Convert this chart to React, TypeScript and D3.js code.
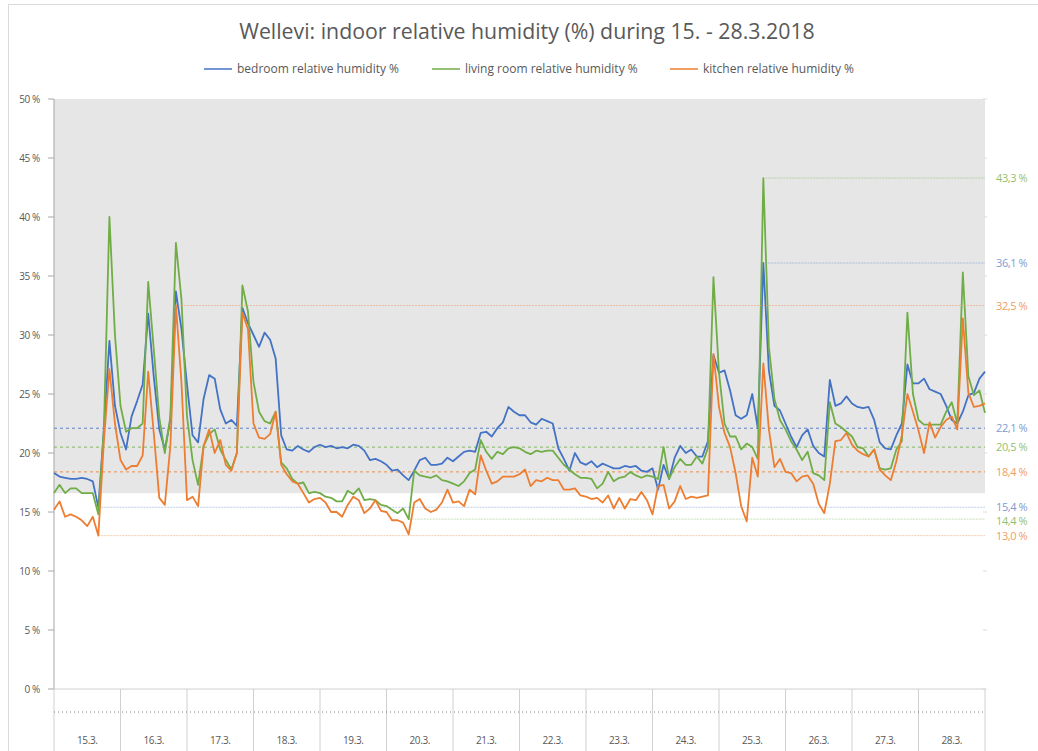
import React from "react";
import * as d3 from "d3";

const dayLabels = ["15.3.", "16.3.", "17.3.", "18.3.", "19.3.", "20.3.", "21.3.", "22.3.", "23.3.", "24.3.", "25.3.", "26.3.", "27.3.", "28.3."];
const stepHours = 2;
const yTicks = [0, 5, 10, 15, 20, 25, 30, 35, 40, 45, 50];

const seriesNames = ["bedroom relative humidity %", "living room relative humidity %", "kitchen relative humidity %"];
const seriesColors = ["#4472c4", "#70ad47", "#ed7d31"];
const labelColors = ["#7d9bd3", "#92bf72", "#f09d66"];

// bedroom, every 2 hours from 15.3. 00:00
const bedroom = [
  18.3, 18.0, 17.9, 17.8, 17.8, 17.9, 17.8, 17.6, 15.4, 22.0, 29.5, 24.0,
  21.7, 20.3, 23.1, 24.4, 25.8, 31.8, 26.5, 22.0, 20.3, 22.8, 33.7, 30.5,
  25.8, 21.5, 20.9, 24.6, 26.6, 26.3, 23.7, 22.5, 22.8, 22.3, 32.3, 31.0,
  30.0, 29.0, 30.2, 29.6, 28.0, 21.5, 20.3, 20.2, 20.6, 20.3, 20.1, 20.5,
  20.7, 20.5, 20.6, 20.4, 20.5, 20.4, 20.7, 20.6, 20.2, 19.4, 19.5, 19.3,
  19.0, 18.5, 18.6, 18.1, 17.7, 18.5, 19.4, 19.6, 19.0, 19.0, 19.1, 19.6,
  19.3, 19.7, 20.1, 20.2, 20.1, 21.7, 21.8, 21.4, 22.1, 22.6, 23.9, 23.5,
  23.2, 23.2, 22.6, 22.4, 22.9, 22.7, 22.5, 20.4, 19.5, 18.5, 20.0, 19.2,
  19.0, 19.3, 18.8, 19.1, 18.9, 18.7, 18.7, 18.9, 18.8, 18.9, 18.5, 18.4,
  18.7, 16.9, 19.0, 17.8, 19.6, 20.6, 20.0, 20.3, 19.7, 19.7, 21.0, 28.3,
  26.8, 27.0, 25.3, 23.2, 22.9, 23.2, 25.0, 22.1, 36.1, 27.0, 24.0, 23.6,
  22.5, 21.4, 20.5, 21.5, 22.0, 20.6, 20.0, 19.7, 26.2, 24.0, 24.2, 24.8,
  24.2, 23.9, 23.8, 23.9, 22.8, 20.9, 20.4, 20.3, 21.5, 22.5, 27.5, 25.9,
  25.9, 26.3, 25.4, 25.2, 25.0, 24.0, 22.8, 22.5, 23.5, 24.9, 25.1, 26.3,
  26.9,
];

const livingRoom = [
  16.6, 17.3, 16.6, 17.0, 17.0, 16.6, 16.6, 16.6, 14.8, 22.0, 40.0, 30.0,
  24.0, 21.8, 22.1, 22.1, 22.5, 34.5, 28.8, 23.0, 20.0, 23.1, 37.8, 33.0,
  23.1, 19.4, 17.3, 20.6, 21.6, 22.0, 20.3, 19.4, 18.6, 20.0, 34.2, 32.0,
  26.0, 23.5, 22.7, 22.5, 23.5, 19.2, 18.7, 17.8, 17.4, 17.5, 16.6, 16.7,
  16.6, 16.3, 16.2, 15.9, 15.9, 16.8, 16.5, 17.0, 16.0, 16.1, 16.0, 15.6,
  15.5, 15.2, 14.9, 15.3, 14.4, 18.5, 18.1, 18.0, 17.9, 18.1, 17.7, 17.6,
  17.4, 17.2, 17.6, 18.3, 18.6, 21.1, 20.1, 19.5, 20.1, 19.9, 20.4, 20.5,
  20.4, 20.1, 19.9, 20.2, 20.1, 20.2, 20.2, 19.6, 19.0, 18.6, 18.2, 17.9,
  17.9, 17.8, 17.0, 17.4, 18.4, 17.6, 17.9, 18.0, 18.4, 18.1, 17.9, 18.1,
  18.0, 17.8, 20.5, 17.8, 18.8, 19.5, 19.0, 19.0, 19.7, 19.1, 20.4, 34.9,
  26.8, 22.5, 21.4, 21.4, 20.3, 20.8, 20.5, 19.5, 43.3, 29.0, 24.6, 22.8,
  22.0, 21.0, 20.3, 19.4, 20.1, 18.3, 18.1, 17.7, 24.3, 22.5, 22.2, 21.8,
  21.4, 20.5, 20.4, 19.7, 20.3, 18.7, 18.6, 18.7, 20.3, 21.0, 31.9, 25.0,
  22.8, 22.4, 22.4, 22.4, 22.4, 23.5, 24.3, 22.5, 35.3, 26.5, 24.9, 25.3,
  23.4,
];

const kitchen = [
  15.2, 15.9, 14.6, 14.8, 14.6, 14.3, 13.8, 14.6, 13.0, 21.0, 27.1, 22.5,
  19.4, 18.6, 18.9, 18.9, 19.8, 26.9, 21.7, 16.2, 15.6, 20.6, 32.5, 26.0,
  16.0, 16.3, 15.5, 20.6, 22.0, 20.0, 21.1, 19.0, 18.5, 20.0, 31.9, 30.5,
  22.5, 21.3, 21.2, 21.6, 23.5, 19.0, 18.2, 17.6, 17.4, 16.6, 15.8, 16.1,
  16.2, 15.8, 15.0, 15.0, 14.6, 15.6, 16.3, 16.0, 14.9, 15.3, 16.0, 15.1,
  15.0, 14.3, 14.3, 14.1, 13.1, 15.8, 16.1, 15.3, 15.0, 15.2, 15.8, 16.9,
  15.8, 15.9, 15.5, 16.9, 16.5, 19.8, 18.5, 17.4, 17.6, 18.0, 18.0, 18.0,
  18.2, 18.6, 17.2, 17.7, 17.6, 17.9, 17.7, 17.7, 16.9, 16.9, 17.0, 16.4,
  16.3, 16.1, 16.2, 15.8, 16.4, 15.3, 16.2, 15.3, 16.1, 16.0, 16.7, 16.0,
  14.8, 17.2, 17.3, 15.3, 15.9, 17.2, 16.1, 16.3, 16.2, 16.3, 16.4, 28.4,
  23.9, 21.7, 20.5, 18.3, 15.5, 14.2, 19.6, 18.0, 27.6, 22.0, 18.8, 19.5,
  18.4, 18.3, 17.6, 18.0, 18.1, 17.4, 15.7, 14.9, 17.4, 21.0, 21.1, 21.7,
  20.7, 20.2, 19.9, 19.7, 20.3, 18.6, 18.1, 17.7, 19.3, 21.5, 25.0, 23.5,
  21.9, 20.0, 22.6, 21.3, 22.2, 22.8, 23.1, 22.0, 31.4, 25.1, 23.9, 24.0,
  24.2,
];

const averages = [22.1, 20.5, 18.4];
const maxima = [36.1, 43.3, 32.5];
const minima = [15.4, 14.4, 13.0];
const comfortLow = 16.6;
const comfortHigh = 50;

const W = 1038;
const H = 751;
const M = { left: 54, right: 985, top: 99, bottom: 689 };
const FONT = "'Open Sans', 'Noto Sans', sans-serif";
const TEXT = "#595959";

const fmt = (v: number) => v.toFixed(1).replace(".", ",") + " %";

export default function App() {
  const allSeries = [bedroom, livingRoom, kitchen];
  const totalHours = dayLabels.length * 24;
  const x = d3.scaleLinear().domain([0, totalHours]).range([M.left, M.right]);
  const y = d3.scaleLinear().domain([0, 50]).range([M.bottom, M.top]);
  const line = d3
    .line<number>()
    .x((_, i) => x(i * stepHours))
    .y((d) => y(d));

  const dayBounds = d3.range(dayLabels.length + 1).map((d) => x(d * 24));
  const rightLabelYs = [
    ...maxima.map((v) => y(v)),
    ...averages.map((v) => y(v)),
    ...minima.map((v) => y(v)),
  ];

  return (
    <svg width={W} height={H} style={{ position: "absolute", left: 0, top: 0, background: "#fff" }} fontFamily={FONT}>
      <rect x={8.5} y={4.5} width={W} height={H} fill="#fff" stroke="#d9d9d9" />
      <text x={527} y={39} textAnchor="middle" fontSize={21.3} fill={TEXT}>
        Wellevi: indoor relative humidity (%) during 15. - 28.3.2018
      </text>

      {seriesNames.map((name, i) => {
        const lx = [204, 432, 670][i];
        return (
          <g key={name}>
            <line x1={lx} x2={lx + 28} y1={69} y2={69} stroke={seriesColors[i]} strokeWidth={1.5} />
            <text x={lx + 33} y={73} fontSize={12} fill={TEXT}>
              {name}
            </text>
          </g>
        );
      })}

      <rect x={M.left} y={y(comfortHigh)} width={M.right - M.left} height={y(comfortLow) - y(comfortHigh)} fill="#e6e6e6" />

      {/* right side small ticks */}
      {yTicks.map((t) => (
        <line key={"rt" + t} x1={M.right - 2} x2={M.right + 2} y1={y(t)} y2={y(t)} stroke="#dcdcdc" />
      ))}

      {/* y axis */}
      <line x1={M.left} x2={M.left} y1={M.top} y2={M.bottom} stroke="#a6a6a6" />
      {yTicks.map((t) => (
        <g key={t}>
          <line x1={M.left - 6} x2={M.left} y1={y(t)} y2={y(t)} stroke="#a6a6a6" />
          <text x={40} y={y(t) + 3.5} textAnchor="end" fontSize={10} letterSpacing={-0.4} fill={TEXT}>
            {t} %
          </text>
        </g>
      ))}

      {/* bottom category area */}
      <line x1={M.left} x2={M.right} y1={M.bottom} y2={M.bottom} stroke="#d0d0d0" />
      {dayBounds.map((bx, i) => (
        <line key={"db" + i} x1={bx} x2={bx} y1={M.bottom} y2={H} stroke="#d0d0d0" />
      ))}
      <line x1={M.left} x2={M.right} y1={712} y2={712} stroke="#7f7f7f" strokeDasharray="1,3" />
      {dayLabels.map((lab, i) => (
        <text key={lab} x={(dayBounds[i] + dayBounds[i + 1]) / 2} y={744} textAnchor="middle" fontSize={10} letterSpacing={-0.4} fill={TEXT}>
          {lab}
        </text>
      ))}

      {/* average lines */}
      {averages.map((v, i) => (
        <line key={"avg" + i} x1={M.left} x2={M.right} y1={y(v)} y2={y(v)} stroke={seriesColors[i]} strokeWidth={1} strokeDasharray="3,3" opacity={0.85} />
      ))}

      {/* min lines */}
      {minima.map((v, i) => {
        const idx = d3.minIndex(allSeries[i]);
        return (
          <line key={"min" + i} x1={x(idx * stepHours)} x2={M.right} y1={y(v)} y2={y(v)} stroke={labelColors[i]} strokeWidth={1} strokeDasharray="2,1" opacity={0.5} />
        );
      })}

      {/* data lines */}
      {allSeries.map((s, i) => (
        <path key={"s" + i} d={line(s) || ""} fill="none" stroke={seriesColors[i]} strokeWidth={1.8} strokeLinejoin="round" />
      ))}

      {/* max lines */}
      {maxima.map((v, i) => {
        const idx = d3.maxIndex(allSeries[i]);
        return (
          <line key={"max" + i} x1={x(idx * stepHours) + 2} x2={M.right} y1={y(v)} y2={y(v)} stroke={labelColors[i]} strokeWidth={1} strokeDasharray="2,1" opacity={0.55} />
        );
      })}

      {/* right labels */}
      {[...maxima, ...averages, ...minima].map((v, k) => {
        const ci = k % 3;
        let ly = rightLabelYs[k];
        if (k === 7) ly += 2;
        return (
          <text key={"rl" + k} x={996} y={ly + 4} fontSize={11} letterSpacing={-0.4} fill={labelColors[ci]}>
            {fmt(v)}
          </text>
        );
      })}
    </svg>
  );
}
